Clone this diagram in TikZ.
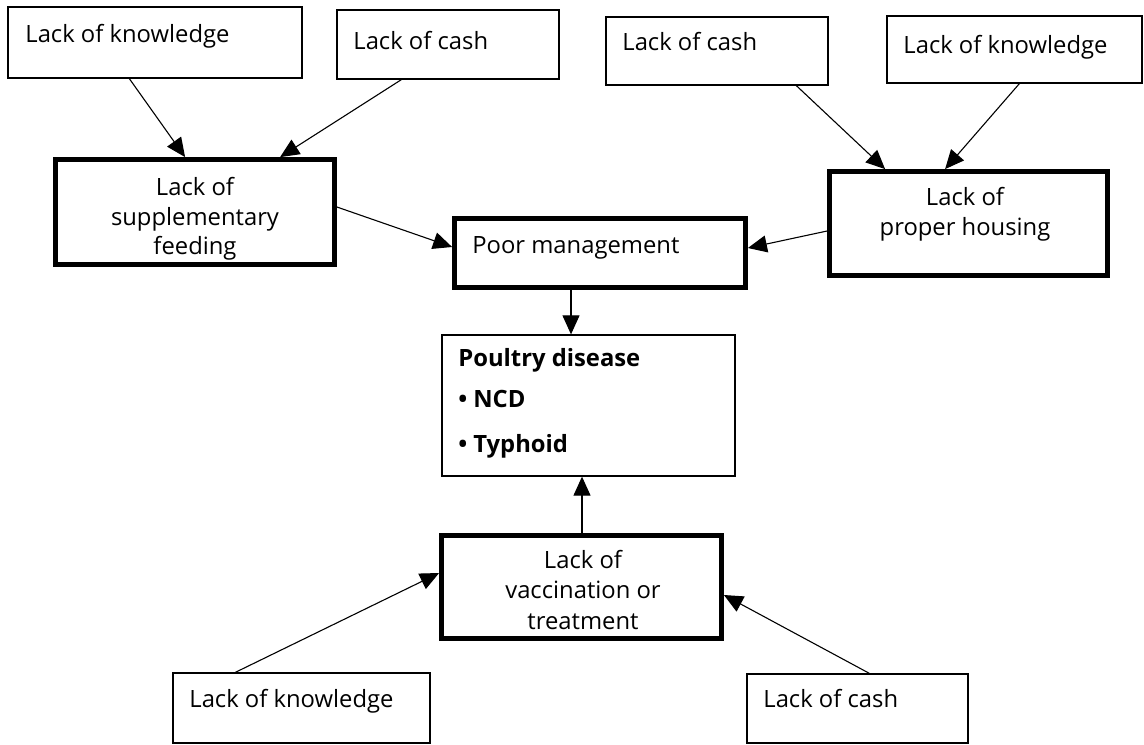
\documentclass[tikz,border=0pt]{standalone}
\usepackage{fontspec}
\setmainfont{Open Sans}
\usetikzlibrary{arrows.meta}
\begin{document}
\begin{tikzpicture}[x=0.5pt,y=-0.5pt,
  every node/.style={font=\fontsize{11.9pt}{15pt}\selectfont},
  thinbox/.style={draw, line width=0.65pt, inner sep=0pt},
  thickbox/.style={draw, line width=2.4pt, inner sep=0pt},
  txt/.style={inner sep=0pt, anchor=base west},
  ctxt/.style={inner sep=0pt, anchor=base},
  arr/.style={line width=0.55pt, -{Triangle[length=9.5pt,width=8.5pt]}}]
\useasboundingbox (0,0) rectangle (1144,744);
% boxes
\node[thinbox, minimum width=147pt, minimum height=35.5pt] (K1) at (155,42.5) {};
\node[thinbox, minimum width=111pt, minimum height=34.5pt] (C1) at (448,44.5) {};
\node[thinbox, minimum width=111pt, minimum height=34pt] (C2) at (717,51) {};
\node[thinbox, minimum width=127.5pt, minimum height=33.5pt] (K2) at (1014.5,49.5) {};
\node[thickbox, minimum width=139.5pt, minimum height=52.5pt] (S) at (195,212) {};
\node[thickbox, minimum width=145.5pt, minimum height=34.5pt] (PM) at (600,253) {};
\node[thickbox, minimum width=139pt, minimum height=52pt] (H) at (968.5,223.5) {};
\node[thinbox, minimum width=146.5pt, minimum height=70.5pt] (PD) at (588.5,405.5) {};
\node[thickbox, minimum width=140pt, minimum height=51.5pt] (V) at (581.5,587) {};
\node[thinbox, minimum width=128.5pt, minimum height=35pt] (K3) at (301.5,708) {};
\node[thinbox, minimum width=110.5pt, minimum height=34.5pt] (C3) at (857.5,708.5) {};
% texts
\node[txt] (tK1) at (25,42) {Lack of knowledge};
\node[txt] (tC1) at (353,49) {Lack of cash};
\node[txt] (tC2) at (622,50) {Lack of cash};
\node[txt] (tK2) at (903,53) {Lack of knowledge};
\node[txt] (tK3) at (189,707) {Lack of knowledge};
\node[txt] (tC3) at (763,707) {Lack of cash};
\node[txt] (tPM) at (472,253) {Poor management};
\node[ctxt] (tS1) at (195,195) {Lack of};
\node[ctxt] (tS2) at (195,225) {supplementary};
\node[ctxt] (tS3) at (195,254) {feeding};
\node[ctxt] (tH1) at (965,205) {Lack of};
\node[ctxt] (tH2) at (965,235) {proper housing};
\node[ctxt] (tV1) at (583,568) {Lack of};
\node[ctxt] (tV2) at (583,598) {vaccination or};
\node[ctxt] (tV3) at (583,629) {treatment};
\node[txt, font=\fontsize{11.9pt}{15pt}\selectfont\bfseries] (tPD1) at (458,366) {Poultry disease};
\node[txt, font=\fontsize{11.9pt}{15pt}\selectfont\bfseries] (tPD2) at (458,407) {•\hspace{3pt}NCD};
\node[txt, font=\fontsize{11.9pt}{15pt}\selectfont\bfseries] (tPD3) at (458,452) {•\hspace{3pt}Typhoid};
% connectors
\draw[arr] ([shift={(122,0)}]K1.south west) -- ([shift={(132,0)}]S.north west);
\draw[arr] ([shift={(65,0)}]C1.south west) -- ([shift={(227,0)}]S.north west);
\draw[arr] ([shift={(0,-5)}]S.east) -- ([shift={(0,-6)}]PM.west);
\draw[arr] ([shift={(191,0)}]C2.south west) -- ([shift={(58,0)}]H.north west);
\draw[arr] ([shift={(133,0)}]K2.south west) -- ([shift={(118,0)}]H.north west);
\draw[arr] ([shift={(0,7.5)}]H.west) -- ([shift={(0,-5)}]PM.east);
\draw[arr] ([shift={(-29,0)}]PM.south) -- ([shift={(-17.5,0)}]PD.north);
\draw[arr] ([shift={(0.5,0)}]V.north) -- ([shift={(-6.5,0)}]PD.south);
\draw[arr] ([shift={(63,0)}]K3.north west) -- ([shift={(0,-14)}]V.west);
\draw[arr] ([shift={(123,0)}]C3.north west) -- ([shift={(0,8)}]V.east);
\end{tikzpicture}
\end{document}
